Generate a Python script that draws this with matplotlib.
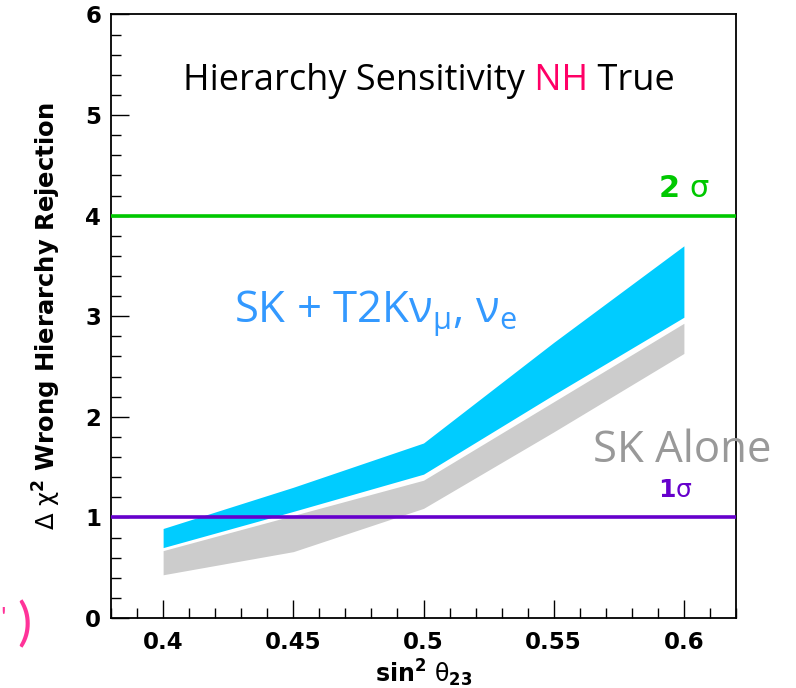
import matplotlib
matplotlib.use("Agg")
import matplotlib.pyplot as plt
from matplotlib.ticker import MultipleLocator, FixedLocator

plt.rcParams['mathtext.fontset'] = 'custom'
plt.rcParams['mathtext.rm'] = 'Open Sans'
plt.rcParams['mathtext.it'] = 'Open Sans:italic'
plt.rcParams['mathtext.bf'] = 'Open Sans:bold'

# ---- data ----
sin2_theta23 = [0.40, 0.45, 0.50, 0.55, 0.60]
sk_t2k_high = [0.89, 1.30, 1.74, 2.74, 3.70]
sk_t2k_low = [0.70, 1.06, 1.43, 2.22, 2.99]
sk_alone_high = [0.67, 1.02, 1.37, 2.15, 2.93]
sk_alone_low = [0.43, 0.66, 1.09, 1.85, 2.63]
two_sigma = 4.0
one_sigma = 1.0
x_ticks = [0.40, 0.45, 0.50, 0.55, 0.60]
x_tick_labels = ["0.4", "0.45", "0.5", "0.55", "0.6"]
y_ticks = [0, 1, 2, 3, 4, 5, 6]

BLUE_BAND = "#00ccff"
GREY_BAND = "#cccccc"
GREEN = "#00c800"
PURPLE = "#6600cc"

fig = plt.figure(figsize=(7.96, 6.88), dpi=100)
ax = fig.add_axes([0.1395, 0.1017, 0.7851, 0.8773])

ax.fill_between(sin2_theta23, sk_alone_low, sk_alone_high, color=GREY_BAND, lw=0, zorder=2)
ax.fill_between(sin2_theta23, sk_t2k_low, sk_t2k_high, color=BLUE_BAND, lw=0, zorder=3)
ax.axhline(two_sigma, color=GREEN, lw=2.6, zorder=4)
ax.axhline(one_sigma, color=PURPLE, lw=2.6, zorder=4)

ax.set_xlim(0.38, 0.62)
ax.set_ylim(0, 6)
ax.xaxis.set_major_locator(FixedLocator(x_ticks))
ax.set_xticklabels(x_tick_labels)
ax.xaxis.set_minor_locator(MultipleLocator(0.01))
ax.yaxis.set_major_locator(FixedLocator(y_ticks))
ax.yaxis.set_minor_locator(MultipleLocator(0.2))
ax.tick_params(which='both', direction='in', top=False, right=False, width=1.0, color='black')
ax.tick_params(which='major', length=13)
ax.tick_params(which='minor', length=7)
ax.tick_params(axis='x', which='major', pad=9)
ax.tick_params(axis='y', which='major', pad=7)
for lab in ax.get_xticklabels() + ax.get_yticklabels():
    lab.set_fontfamily('DejaVu Sans')
    lab.set_fontweight('bold')
    lab.set_fontsize(16.5)
for sp in ax.spines.values():
    sp.set_linewidth(1.3)

ax.set_xlabel(r"$\mathbf{sin^{2}}\ \mathrm{\theta}_{\mathbf{23}}$", fontsize=17, labelpad=3,
              math_fontfamily='dejavusans')
ax.set_ylabel(r"$\mathrm{\Delta}\ \mathrm{\chi}^{\mathbf{2}}$ Wrong Hierarchy Rejection", fontsize=17.5,
              fontfamily='DejaVu Sans', fontweight='bold', labelpad=16,
              math_fontfamily='dejavusans')

# title pieces
TFS = 26
t1 = ax.text(0.115, 0.875, "Hierarchy Sensitivity", transform=ax.transAxes,
             fontfamily='Open Sans', fontsize=TFS, color='black', va='baseline', ha='left')
t2 = ax.annotate(" NH", xy=(1, 0), xycoords=t1, fontfamily='Open Sans', fontsize=TFS,
                 color='#ff0066', va='bottom', ha='left')
t3 = ax.annotate(" True", xy=(1, 0), xycoords=t2, fontfamily='Open Sans', fontsize=TFS,
                 color='black', va='bottom', ha='left')

ax.text(0.875, 0.6975, r"$\mathbf{2}\ \mathrm{\sigma}$", transform=ax.transAxes,
        fontsize=22, color=GREEN, va='baseline', ha='left', math_fontfamily='dejavusans')
ax.text(0.875, 0.200, r"$\mathbf{1}\mathrm{\sigma}$", transform=ax.transAxes,
        fontsize=18, color=PURPLE, va='baseline', ha='left', math_fontfamily='dejavusans')

ax.text(0.196, 0.491, r"SK + T2K$\mathrm{\nu}_{\mathrm{\mu}}$, $\mathrm{\nu}_{\mathrm{e}}$",
        transform=ax.transAxes, fontfamily='Open Sans', fontsize=31.5, color='#3399ff',
        va='baseline', ha='left')
ax.text(0.771, 0.258, "SK Alone", transform=ax.transAxes, fontfamily='Open Sans',
        fontsize=31.5, color='#999999', va='baseline', ha='left', clip_on=False, zorder=6)

fig.text(0.031, 0.0916, ")", fontsize=38, color='#ff3399', ha='center', va='center',
         fontfamily='Lato')
fig.text(0.004, 0.0985, "'", fontsize=20, color='#ff3399', ha='center', va='center',
         fontfamily='Lato')

fig.savefig("out.png", dpi=100)
